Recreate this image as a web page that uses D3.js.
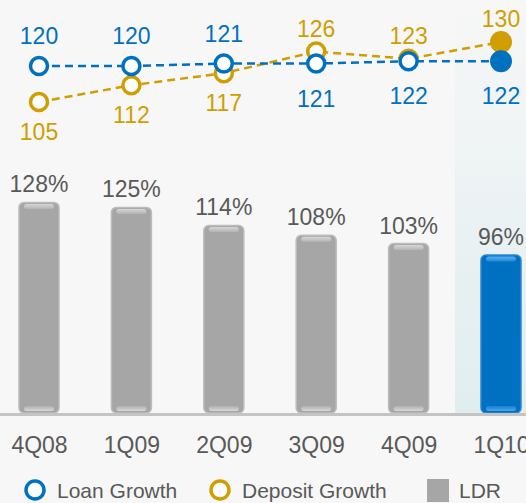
<!DOCTYPE html>
<html>
<head>
<meta charset="utf-8">
<script src="https://cdn.jsdelivr.net/npm/d3@7"></script>
<style>
  html, body { margin: 0; padding: 0; background: #f7f7f7; }
  svg { display: block; font-family: "Liberation Sans", Arial, sans-serif; }
</style>
</head>
<body>
<svg id="chart" width="526" height="503"></svg>
<script>
// Quarters on the x axis
const quarters = ["4Q08", "1Q09", "2Q09", "3Q09", "4Q09", "1Q10"];
// Loan-to-deposit ratio, percent
const ldr = [128, 125, 114, 108, 103, 96];
// Growth indices
const loanGrowth = [120, 120, 121, 121, 122, 122];
const depositGrowth = [105, 112, 117, 126, 123, 130];
// Where each value label sits relative to its marker
const loanLabelSide = ["above", "above", "above", "below", "below", "below"];
const depositLabelSide = ["below", "below", "below", "above", "above", "above"];
// Legend entries
const legendItems = ["Loan Growth", "Deposit Growth", "LDR"];

const W = 526, H = 503;
const baseY = 413;
const BLUE = "#0070c0", GOLD = "#d09e00", GREY = "#a6a6a6", TEXT = "#595959";

const svg = d3.select("#chart");

const x = d3.scalePoint().domain(quarters).range([-7.2, 547.2]).padding(0.5);
const yBar = d3.scaleLinear().domain([0, 100]).range([baseY, baseY - 164.5]);
const yLine = d3.scaleLinear().domain([105, 130]).range([102, 42]);
const barW = 40;

const defs = svg.append("defs");
const hl = defs.append("linearGradient").attr("id", "hlGrad").attr("x1", 0).attr("y1", 0).attr("x2", 0).attr("y2", 1);
hl.append("stop").attr("offset", "0%").attr("stop-color", "#f7f7f7");
hl.append("stop").attr("offset", "100%").attr("stop-color", "#e0edef");

function shineGrad(id, c0, c1) {
  const g = defs.append("linearGradient").attr("id", id).attr("x1", 0).attr("y1", 0).attr("x2", 0).attr("y2", 1);
  g.append("stop").attr("offset", "0%").attr("stop-color", c0);
  g.append("stop").attr("offset", "100%").attr("stop-color", c1);
}
shineGrad("greyShineTop", "#d6d6d6", "#b4b4b4");
shineGrad("greyShineBot", "#b0b0b0", "#d8d8d8");
shineGrad("blueShineTop", "#5aaef0", "#1f86d6");
shineGrad("blueShineBot", "#1a80d0", "#4aa6ee");

// Highlight panel behind the latest quarter
const lastX = x(quarters[quarters.length - 1]);
svg.append("rect")
  .attr("x", lastX - 46).attr("y", 0)
  .attr("width", W - (lastX - 46)).attr("height", baseY)
  .attr("fill", "url(#hlGrad)");

// LDR bars
const bars = svg.append("g").selectAll("g").data(quarters).join("g");
bars.each(function (q, i) {
  const g = d3.select(this);
  const isLast = i === quarters.length - 1;
  const fill = isLast ? BLUE : GREY;
  const edge = isLast ? "#2a88d4" : "#bcbcbc";
  const cx = x(q), top = yBar(ldr[i]);
  g.append("rect")
    .attr("x", cx - barW / 2).attr("y", top)
    .attr("width", barW).attr("height", baseY - top)
    .attr("rx", 5).attr("fill", fill)
    .attr("stroke", edge).attr("stroke-width", 1.5);
  g.append("rect")
    .attr("x", cx - barW / 2 + 5).attr("y", top + 1.5)
    .attr("width", barW - 10).attr("height", 5)
    .attr("rx", 2.5)
    .attr("fill", isLast ? "url(#blueShineTop)" : "url(#greyShineTop)");
  g.append("rect")
    .attr("x", cx - barW / 2 + 5).attr("y", baseY - 7)
    .attr("width", barW - 10).attr("height", 5)
    .attr("rx", 2.5)
    .attr("fill", isLast ? "url(#blueShineBot)" : "url(#greyShineBot)");
  g.append("text")
    .attr("x", cx).attr("y", top - 10)
    .attr("text-anchor", "middle")
    .attr("font-size", 23).attr("fill", TEXT)
    .text(ldr[i] + "%");
});

// Baseline
svg.append("line")
  .attr("x1", 0).attr("x2", W).attr("y1", baseY + 1.5).attr("y2", baseY + 1.5)
  .attr("stroke", "#c4c4c4").attr("stroke-width", 3);

// Category axis labels
const xAxis = d3.axisBottom(x).tickSize(0).tickPadding(0);
const axisG = svg.append("g").attr("transform", `translate(0,${baseY + 24})`).call(xAxis);
axisG.select(".domain").remove();
axisG.selectAll("text")
  .attr("font-size", 23).attr("fill", TEXT)
  .attr("font-family", "Liberation Sans, Arial, sans-serif");

// Growth lines
function drawSeries(values, sides, color, aboveOff, belowOff) {
  const g = svg.append("g");
  const line = d3.line().x((d, i) => x(quarters[i])).y(d => yLine(d));
  g.append("path").datum(values)
    .attr("d", line).attr("fill", "none")
    .attr("stroke", color).attr("stroke-width", 2.5)
    .attr("stroke-dasharray", "8,5");
  values.forEach((v, i) => {
    const cx = x(quarters[i]), cy = yLine(v);
    const isLast = i === values.length - 1;
    g.append("circle")
      .attr("cx", cx).attr("cy", cy)
      .attr("r", isLast ? 11 : 8.5)
      .attr("fill", isLast ? color : "#ffffff")
      .attr("stroke", isLast ? "none" : color)
      .attr("stroke-width", 3.5);
  });
  return g;
}
function drawLabels(values, sides, color, aboveOff, belowOff) {
  svg.append("g").selectAll("text").data(values).join("text")
    .attr("x", (d, i) => x(quarters[i]))
    .attr("y", (d, i) => yLine(d) + (sides[i] === "above" ? aboveOff : belowOff))
    .attr("text-anchor", "middle")
    .attr("font-size", 23).attr("fill", color)
    .text(d => d);
}
drawSeries(depositGrowth, depositLabelSide, GOLD);
drawSeries(loanGrowth, loanLabelSide, BLUE);
drawLabels(depositGrowth, depositLabelSide, GOLD, -15, 38);
drawLabels(loanGrowth, loanLabelSide, BLUE, -22, 43);

// Legend
const legend = svg.append("g");
const legendX = [35, 220, 427];
const legendColors = [BLUE, GOLD, GREY];
legendItems.forEach((name, i) => {
  if (i < 2) {
    legend.append("circle")
      .attr("cx", legendX[i]).attr("cy", 490).attr("r", 9)
      .attr("fill", "#ffffff").attr("stroke", legendColors[i]).attr("stroke-width", 3.5);
    legend.append("text")
      .attr("x", legendX[i] + 22).attr("y", 498)
      .attr("font-size", 21).attr("fill", TEXT).text(name);
  } else {
    legend.append("rect")
      .attr("x", legendX[i]).attr("y", 479).attr("width", 22).attr("height", 23)
      .attr("fill", legendColors[i]);
    legend.append("text")
      .attr("x", legendX[i] + 32).attr("y", 498)
      .attr("font-size", 21).attr("fill", TEXT).text(name);
  }
});
</script>
</body>
</html>
